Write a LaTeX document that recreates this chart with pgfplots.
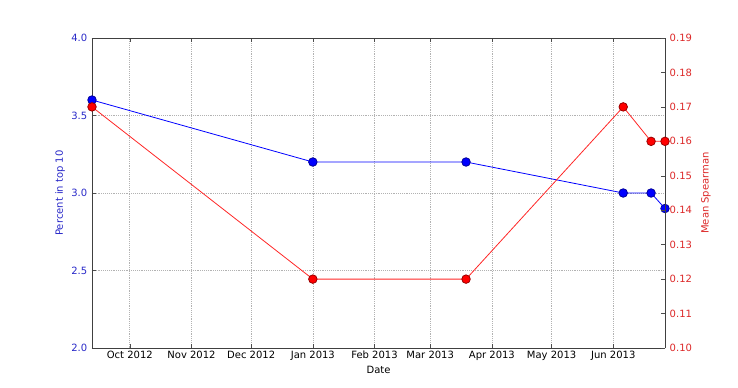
\documentclass[border=0pt]{standalone}
\usepackage{pgfplots}
\pgfplotsset{compat=1.18}
\usepackage{fontspec}
\setmainfont{DejaVu Sans}
\definecolor{tblue}{RGB}{40,40,200}
\definecolor{tred}{RGB}{220,40,40}
\begin{document}
\begin{tikzpicture}[x=1pt,y=1pt]
\pgfplotsset{
  every axis/.style={
    scale only axis, width=429.75pt, height=232.5pt,
    at={(0,0)}, anchor=south west,
    xmin=-19, xmax=269,
    font=\fontsize{7.5}{9}\selectfont,
    ticklabel style={font=\fontsize{7.5}{9}\selectfont},
    /pgf/number format/assume math mode=true,
    tick align=inside,
    major tick length=3pt,
    every tick/.style={black!70, thin},
    axis line style={black!75, thin},
  }
}
\begin{axis}[
  axis y line*=left,
  axis x line*=box,
  ymin=2.0, ymax=4.0,
  ytick={2.0,2.5,3.0,3.5,4.0},
  yticklabels={2.0,2.5,3.0,3.5,4.0},
  yticklabel style={text=tblue},
  xtick={0,31,61,92,123,151,182,212,243},
  xticklabels={Oct 2012,Nov 2012,Dec 2012,Jan 2013,Feb 2013,Mar 2013,Apr 2013,May 2013,Jun 2013},
  xticklabel style={yshift=1pt},
  xlabel={Date},
  xlabel style={yshift=3pt},
  ylabel={Percent in top 10},
  ylabel style={text=tblue, yshift=-2pt},
  grid=major,
  major grid style={gray!60, densely dotted, line width=0.5pt},
  clip=false,
]
\addplot[blue, line width=0.6pt, mark=*, mark size=3.2pt, mark options={fill=blue, draw=blue!60!black}]
coordinates {(-19,3.6) (92,3.2) (169,3.2) (248,3.0) (262,3.0) (269,2.9)};
\end{axis}
\begin{axis}[
  axis y line*=right,
  axis x line=none,
  ymin=0.10, ymax=0.19,
  ytick={0.10,0.11,0.12,0.13,0.14,0.15,0.16,0.17,0.18,0.19},
  yticklabels={0.10,0.11,0.12,0.13,0.14,0.15,0.16,0.17,0.18,0.19},
  yticklabel style={text=tred},
  ylabel={Mean Spearman},
  ylabel style={text=tred},
  clip=false,
]
\addplot[red!85!white, line width=0.6pt, mark=*, mark size=3.2pt, mark options={fill=red, draw=red!60!black}]
coordinates {(-19,0.170) (92,0.120) (169,0.120) (248,0.170) (262,0.160) (269,0.160)};
\end{axis}
\path (-69pt,-29.25pt) rectangle (484.5pt,261pt);
\end{tikzpicture}
\end{document}
